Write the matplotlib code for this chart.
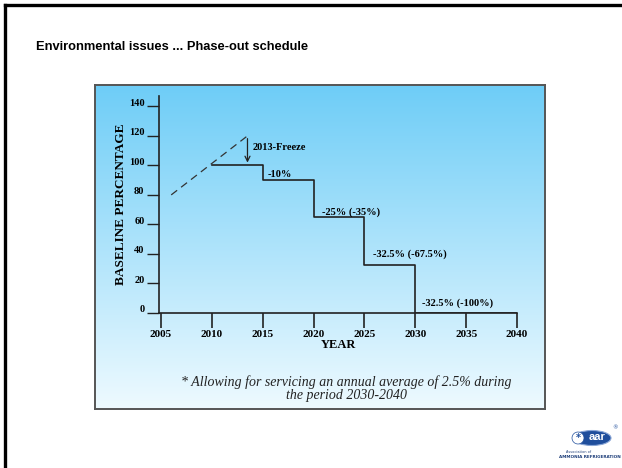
import matplotlib
import matplotlib.pyplot as plt
import numpy as np
from matplotlib.lines import Line2D
from matplotlib.patches import Ellipse, Circle
from matplotlib.transforms import ScaledTranslation

matplotlib.use("Agg")

# schedule data
step_years = [2010, 2015, 2020, 2025, 2030, 2040]
step_values = [100, 90, 65, 32.5, 0, 0]
trend_years = [2006, 2013.5]
trend_values = [80, 120]
freeze_year = 2013.5
step_labels = ["-10%", "-25% (-35%)", "-32.5% (-67.5%)", "-32.5% (-100%)"]
label_years = [2015.5, 2020.8, 2025.8, 2030.7]
label_values = [94, 68.5, 40, 6.5]
x_ticks = [2005, 2010, 2015, 2020, 2025, 2030, 2035, 2040]
y_ticks = [0, 20, 40, 60, 80, 100, 120, 140]

W, H = 622, 468
SERIF = "Liberation Serif"
SANS = "Liberation Sans"


def px_box(x0, y0, x1, y1):
    return [x0 / W, 1 - y1 / H, (x1 - x0) / W, (y1 - y0) / H]


fig = plt.figure(figsize=(W / 100, H / 100), dpi=100)
fig.patch.set_facecolor("white")

# slide frame (left and top edges)
fig.add_artist(Line2D([5 / W, 5 / W], [0, 1 - 5 / H], color="black", linewidth=2.4))
fig.add_artist(Line2D([5 / W, 1], [1 - 5 / H, 1 - 5 / H], color="black", linewidth=2.4))

fig.text(36 / W, 1 - 47 / H, "Environmental issues ... Phase-out schedule",
         fontsize=9.3, fontweight="bold", family=SANS, va="center", ha="left")

# gradient panel
bg = fig.add_axes(px_box(95, 85, 545, 409))
top = np.array([110, 205, 247]) / 255
bottom = np.array([238, 250, 255]) / 255
t = np.linspace(0, 1, 256)[:, None]
grad = top[None, :] * (1 - t) + bottom[None, :] * t
bg.imshow(grad[:, None, :], aspect="auto", extent=[0, 1, 0, 1])
bg.set_xticks([])
bg.set_yticks([])
for spine in bg.spines.values():
    spine.set_color("#555555")
    spine.set_linewidth(1.4)

ax = fig.add_axes(px_box(159, 96, 517, 313))
ax.patch.set_alpha(0)
ax.step(step_years, step_values, where="post", color="#222222", linewidth=1.2)
ax.plot(trend_years, trend_values, color="#333333", linewidth=0.9, linestyle=(0, (6, 4)))
ax.annotate("", xy=(freeze_year, 100), xytext=(freeze_year, 120),
            arrowprops=dict(arrowstyle="->", color="#222222", lw=0.9, mutation_scale=9))
ax.text(freeze_year + 0.5, 112, "2013-Freeze", fontsize=7.5, fontweight="bold",
        family=SERIF, va="center", ha="left")
for lab, lx, ly in zip(step_labels, label_years, label_values):
    ax.text(lx, ly, lab, fontsize=7.5, fontweight="bold", family=SERIF, va="center", ha="left")

ax.set_xlim(2004.8, 2040)
ax.set_ylim(0, 147)
ax.set_xticks(x_ticks)
ax.set_yticks(y_ticks)
ax.set_xticklabels([str(v) for v in x_ticks], fontsize=8, fontweight="bold", family=SERIF)
ax.set_yticklabels([str(v) for v in y_ticks], fontsize=7.5, fontweight="bold", family=SERIF)
ax.tick_params(axis="x", direction="out", length=11, width=1.2, pad=1.5, color="#222222")
ax.tick_params(axis="y", direction="out", length=9, width=1.0, pad=1.5, color="#222222")
shift = ScaledTranslation(0, 4 / 100, fig.dpi_scale_trans)
for lab in ax.get_yticklabels():
    lab.set_transform(lab.get_transform() + shift)
ax.spines["top"].set_visible(False)
ax.spines["right"].set_visible(False)
ax.spines["left"].set_color("#222222")
ax.spines["bottom"].set_color("#222222")
ax.spines["left"].set_linewidth(1.2)
ax.spines["bottom"].set_linewidth(1.2)
ax.set_xlabel("YEAR", fontsize=9, fontweight="bold", family=SERIF, labelpad=0)
ax.set_ylabel("BASELINE PERCENTAGE", fontsize=9.5, fontweight="bold", family=SERIF, labelpad=1)

fig.text(346 / W, 1 - 382 / H, "* Allowing for servicing an annual average of 2.5% during",
         fontsize=10, style="italic", family=SERIF, ha="center", va="center", color="#222222")
fig.text(346 / W, 1 - 395 / H, "the period 2030-2040",
         fontsize=10, style="italic", family=SERIF, ha="center", va="center", color="#222222")

# logo
logo = fig.add_axes([0, 0, 1, 1])
logo.set_xlim(0, W)
logo.set_ylim(H, 0)
logo.axis("off")
logo.patch.set_alpha(0)
logo.add_patch(Ellipse((592, 438), 38, 15, facecolor="#1f4e9c", edgecolor="#8aa6d6", linewidth=0.8))
logo.add_patch(Circle((578, 438), 6, facecolor="white", edgecolor="#1f4e9c", linewidth=0.5))
logo.text(578, 438.5, "*", fontsize=7, color="#1f4e9c", ha="center", va="center", fontweight="bold")
logo.text(597, 437.5, "aar", fontsize=8, color="white", ha="center", va="center", fontweight="bold", family=SANS)
logo.text(615, 428, "®", fontsize=4, color="#1f4e9c", ha="center", va="center")
logo.text(566, 452, "Association of", fontsize=2.5, color="#1f3f7a", ha="left", va="center")
logo.text(590, 457, "AMMONIA REFRIGERATION", fontsize=3, color="#1f3f7a", ha="center", va="center",
          fontweight="bold")

fig.savefig("out.png", dpi=100)
